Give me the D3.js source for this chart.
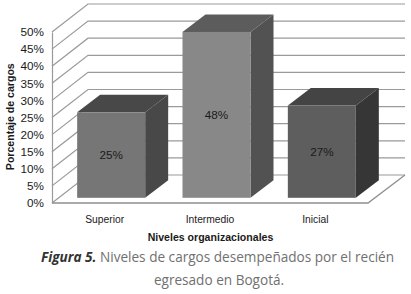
<!DOCTYPE html>
<html>
<head>
<meta charset="utf-8">
<script src="https://cdn.jsdelivr.net/npm/d3@7"></script>
<style>
html, body { margin: 0; padding: 0; background: #fff; }
svg { display: block; }
text { font-family: "Liberation Sans", Arial, sans-serif; fill: #1a1a1a; }
.caption { font-family: "Open Sans", sans-serif; font-size: 13.6px; fill: #707070; }
.caption .fig { font-weight: 700; font-style: italic; fill: #333; }
</style>
</head>
<body>
<div id="chart"></div>
<script>
// values
var categories = ["Superior", "Intermedio", "Inicial"]
var values = [25, 48.5, 27]
var barLabels = ["25%", "48%", "27%"]
var yTicks = [0, 5, 10, 15, 20, 25, 30, 35, 40, 45, 50]

// front face colour, top, side for each bar
var frontColors = ["#767676", "#888888", "#5e5e5e"]
var topColors = ["#484848", "#5c5c5c", "#444444"]
var sideColors = ["#484848", "#525252", "#363636"]

var w = 411, h = 294

var svg = d3.select("#chart").append("svg")
  .attr("width", w)
  .attr("height", h)

var y = d3.scaleLinear().domain([0, 50]).range([203, 32])
var x = d3.scaleBand().domain(categories).range([52, 368])

// the "3d" offsets of the walls and of the bars
var wallDx = 36, wallDy = -28
var barDx = 23, barDy = -17.5
var barW = 68
var baseLift = 5.2
var baseShift = 6.5

// grid lines on the side wall and back wall
svg.selectAll(".grid")
  .data(yTicks)
  .join("polyline")
  .attr("class", "grid")
  .attr("fill", "none")
  .attr("stroke", "#9a9a9a")
  .attr("stroke-width", 1.2)
  .attr("points", function(d) {
    var px = x.range()[0], py = y(d)
    return [[px, py], [px + wallDx, py + wallDy], [x.range()[1] + wallDx + 1, py + wallDy]].join(" ")
  })

// floor front and right edge
svg.append("polyline")
  .attr("fill", "none")
  .attr("stroke", "#8f8f8f")
  .attr("stroke-width", 1.3)
  .attr("points", [
    [x.range()[0], y(0)],
    [x.range()[1], y(0)],
    [x.range()[1] + wallDx + 1, y(0) + wallDy]
  ].join(" "))

// left wall axis
var axis = d3.axisLeft(y)
  .tickValues(yTicks)
  .tickSize(0)
  .tickPadding(8)
  .tickFormat(function(d) { return d + "%" })

var axisG = svg.append("g")
  .attr("transform", "translate(" + x.range()[0] + ",0)")
  .call(axis)
axisG.select(".domain").attr("stroke", "#9a9a9a").attr("stroke-width", 1.2)
axisG.selectAll("text")
  .attr("font-size", 11.7)
  .style("font-family", '"Liberation Sans", Arial, sans-serif')
  .attr("fill", "#1a1a1a")

// bars
var bars = svg.selectAll(".bar")
  .data(categories)
  .join("g")
  .attr("class", "bar")

function bandMid(d) { return x(d) + x.bandwidth() / 2 }
function barLeft(d) { return bandMid(d) - barW / 2 + baseShift }
function barTop(i) { return y(values[i]) - baseLift }
function barBase() { return y(0) - baseLift }

bars.append("polygon")
  .attr("fill", function(d, i) { return sideColors[i] })
  .attr("points", function(d, i) {
    var r = barLeft(d) + barW
    return [[r, barTop(i)], [r + barDx, barTop(i) + barDy], [r + barDx, barBase() + barDy], [r, barBase()]].join(" ")
  })

bars.append("polygon")
  .attr("fill", function(d, i) { return topColors[i] })
  .attr("points", function(d, i) {
    var l = barLeft(d), t = barTop(i)
    return [[l, t], [l + barDx, t + barDy], [l + barW + barDx, t + barDy], [l + barW, t]].join(" ")
  })

bars.append("rect")
  .attr("x", barLeft)
  .attr("y", function(d, i) { return barTop(i) })
  .attr("width", barW)
  .attr("height", function(d, i) { return barBase() - barTop(i) })
  .attr("fill", function(d, i) { return frontColors[i] })

bars.append("text")
  .attr("x", function(d) { return barLeft(d) + barW / 2 })
  .attr("y", function(d, i) { return (barTop(i) + barBase()) / 2 })
  .attr("dy", "0.35em")
  .attr("text-anchor", "middle")
  .attr("font-size", 11.7)
  .text(function(d, i) { return barLabels[i] })

// category names, a bit narrower than the plain font
svg.selectAll(".cat")
  .data(categories)
  .join("text")
  .attr("class", "cat")
  .attr("transform", function(d) { return "translate(" + bandMid(d) + ",222.5) scale(0.88,1)" })
  .attr("text-anchor", "middle")
  .attr("font-size", 11.7)
  .text(function(d) { return d })

// axis titles
svg.append("text")
  .attr("transform", "translate(14,116.7) rotate(-90) scale(0.92,1)")
  .attr("text-anchor", "middle")
  .attr("font-size", 11.5)
  .attr("font-weight", "bold")
  .text("Porcentaje de cargos")

svg.append("text")
  .attr("transform", "translate(210.5,241) scale(0.92,1)")
  .attr("text-anchor", "middle")
  .attr("font-size", 11.5)
  .attr("font-weight", "bold")
  .text("Niveles organizacionales")

// caption
var cap = svg.append("text")
  .attr("class", "caption")
  .attr("x", 217.5)
  .attr("y", 262)
  .attr("text-anchor", "middle")
cap.append("tspan").attr("class", "fig").text("Figura 5.")
cap.append("tspan").text(" Niveles de cargos desempeñados por el recién")

svg.append("text")
  .attr("class", "caption")
  .attr("x", 219)
  .attr("y", 284.5)
  .attr("text-anchor", "middle")
  .text("egresado en Bogotá.")
</script>
</body>
</html>
